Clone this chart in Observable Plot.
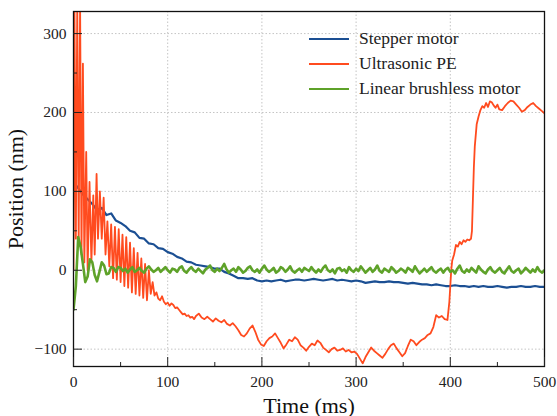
<!DOCTYPE html>
<html>
<head>
<meta charset="utf-8">
<script src="https://cdn.jsdelivr.net/npm/d3@7"></script>
<script src="https://cdn.jsdelivr.net/npm/@observablehq/plot@0.6"></script>
<style>
  html, body { margin: 0; padding: 0; background: #fff; }
  #wrap { position: relative; width: 557px; height: 416px; font-family: "Liberation Serif", "Times New Roman", serif; }
  #wrap svg, #wrap svg text { font-family: "Liberation Serif", "Times New Roman", serif !important; font-variant-numeric: normal !important; font-variant: normal !important; }
  g[aria-label="x-axis tick label"] text, g[aria-label="y-axis tick label"] text { font-size: 15.5px; fill: #222; }
  g[aria-label="x-axis label"] text, g[aria-label="y-axis label"] text { font-size: 22px; fill: #111; }
  #legend { position: absolute; left: 309px; top: 26px; font-size: 17.5px; color: #222; }
  #legend .row { display: flex; align-items: center; height: 25px; }
  #legend .sw { width: 40px; height: 2px; margin-right: 10px; }
</style>
</head>
<body>
<div id="wrap"><div id="legend"></div></div>
<script>
// ---- Data ----
const seriesNames = ["Stepper motor", "Ultrasonic PE", "Linear brushless motor"];
const seriesColors = ["#1b4f93", "#ff4b1f", "#5ea229"];

const xMajorTicks = [0, 100, 200, 300, 400, 500];
const xMinorTicks = [50, 150, 250, 350, 450];
const yMajorTicks = [-100, 0, 100, 200, 300];
const yMinorTicks = [-50, 50, 150, 250];

// Stepper motor, sampled every 5 ms from 0 to 500 ms
const stepperStep = 5;
const stepperValues = [
  112, 104, 96, 90, 84, 76, 79, 70, 72, 63,
  60, 56, 50, 48, 41, 40, 34, 33, 28, 27,
  23, 21, 17, 15, 11, 10, 7, 6, 5, 4,
  2, 2, -2, -4, -7, -10, -10, -11, -10, -13,
  -14, -13, -14, -13, -12, -14, -13, -12, -12, -13,
  -12, -11, -12, -13, -12, -11, -13, -12, -13, -14,
  -13, -14, -16, -15, -14, -15, -15, -14, -15, -15,
  -16, -17, -16, -17, -18, -18, -19, -18, -19, -20,
  -20, -19, -20, -20, -21, -20, -21, -20, -21, -21,
  -20, -21, -22, -21, -21, -20, -21, -21, -20, -21,
  -21
];

// Ultrasonic PE, irregular samples
const ultraTime = [
  0, 1, 2.5, 4, 5.5, 7, 8.5, 10, 11.5, 13.5, 15, 17, 19, 21, 22.5, 24.5, 26,
  28, 30, 32, 34, 36, 38, 40, 42, 44, 46, 48, 50, 52, 54, 56, 58, 60, 62, 64, 66,
  68, 70, 72, 74, 76, 78, 80, 82, 84, 86, 88, 90, 92, 94, 96, 98, 100, 102, 104,
  106, 108, 110, 112, 114, 116, 118, 120, 122, 124, 126, 128, 130, 133, 136, 139,
  142, 145, 148, 151, 154, 157, 160, 163, 166, 169, 172, 175, 178, 181, 184, 187,
  190, 193, 196, 199, 202, 205, 208, 211, 214, 217, 220, 223, 226, 229, 232, 235,
  238, 241, 244, 247, 250, 253, 256, 259, 262, 265, 268, 271, 274, 277, 280, 283,
  286, 289, 292, 295, 298, 301, 304, 307, 310, 313, 316, 319, 322, 325, 328, 331,
  334, 337, 340, 343, 346, 349, 352, 355, 358, 361, 364, 367, 370, 373, 376, 379,
  382, 385, 388, 391, 394, 397, 399, 400, 401, 402, 404, 406, 408, 410, 412, 414,
  416, 418, 420, 422, 423, 424, 425, 426, 428, 430, 432, 434, 436, 438, 440, 442,
  444, 446, 448, 450, 452, 455, 458, 461, 464, 467, 470, 473, 476, 479, 482, 485,
  488, 491, 494, 497, 500
];
const ultraValues = [
  0, 340, 40, 340, 30, 340, 20, 262, 10, 150, 0, 112, 10, 95, 20, 122, 40,
  100, 40, 92, 20, 62, 5, 58, -10, 55, -12, 52, -15, 45, -20, 42, -22, 35, -28, 28, -30,
  22, -32, 15, -35, 8, -38, 0, -30, -15, -32, -28, -36, -38, -33, -40, -43, -41, -45, -42,
  -44, -48, -47, -50, -53, -56, -55, -58, -57, -60, -59, -62, -58, -55, -60, -62,
  -59, -62, -65, -61, -64, -66, -63, -68, -70, -67, -71, -76, -82, -84, -80, -74,
  -70, -78, -88, -94, -96, -90, -86, -84, -80, -86, -92, -99, -94, -88, -90, -85,
  -88, -95, -98, -102, -97, -93, -95, -89, -92, -98, -101, -104, -100, -98, -102, -101,
  -99, -103, -101, -104, -103, -106, -112, -118, -110, -104, -98, -102, -105, -108, -111, -106,
  -100, -95, -93, -99, -104, -109, -105, -96, -88, -90, -95, -91, -88, -86, -82, -80,
  -72, -57, -60, -58, -62, -63, -40, -20, 0, 12, 20, 32, 30, 36, 33, 38,
  36, 39, 38, 40, 50, 90, 130, 157, 185, 195, 203, 208, 206, 212, 207, 214,
  213, 209, 206, 210, 204, 203, 208, 212, 215, 214, 210, 206, 201, 203, 207, 210,
  212, 208, 205, 202, 199
];

// Linear brushless motor, sampled every 2.5 ms from 0 to 500 ms
const linearStep = 2.5;
const linearValues = [
  -50, -20, 42, 30, 8, -15, -8, 14, 10, -6, -14, -2, 10, 6, -5, -4, 4, 3, -2, 4,
  3, -1, 2, -3, 1, 4, -2, 0, 3, -1, -3, 2, 5, 1, -2, 0, 3, -2, 1, 4,
  0, -3, 2, 1, -2, 3, 5, -1, -3, 1, 4, 0, -2, 2, -1, -4, 1, 3, 6, 0,
  -2, 2, -1, 3, 8, 1, -3, 0, 2, -2, 4, 1, -3, -1, 3, 5, 0, -2, 1, -3,
  2, 6, 1, -2, 0, 3, -3, -1, 4, 2, -2, 1, 5, -1, -3, 0, 2, -2, 3, 1,
  -1, 4, 0, -3, 1, -2, 3, 6, 0, -2, 1, -4, 2, 3, -1, 1, -3, 4, 0, -2,
  2, -1, 5, 1, -3, 0, 3, -2, 1, 6, -1, -3, 2, 0, -2, 4, 1, -3, -1, 2,
  0, -3, 3, 1, -2, 5, 0, -4, -1, 2, -2, 1, 4, -1, -3, 0, 2, -3, 1, 3,
  -2, 0, -4, 2, 6, -1, -3, 1, -2, 3, 0, -3, 5, 1, -2, -4, 1, 4, -1, -3,
  0, 3, -2, -4, 1, 5, -1, -3, 0, 2, -4, -1, 3, 0, -3, 1, -2, 4, -1, -3,
  0
];

// ---- Build tables ----
const stepper = stepperValues.map((v, i) => ({t: i * stepperStep, v}));
const ultra = ultraValues.map((v, i) => ({t: ultraTime[i], v}));
const linear = linearValues.map((v, i) => ({t: i * linearStep, v}));

const fmt = d => d < 0 ? "\u2212" + Math.abs(d) : String(d);
const serif = "Liberation Serif";

const chart = Plot.plot({
  width: 557,
  height: 416,
  marginLeft: 73,
  marginRight: 13,
  marginTop: 11,
  marginBottom: 50,
  x: {domain: [0, 500]},
  y: {domain: [-122, 328]},
  style: {fontFamily: serif, fontSize: "15px", background: "white", color: "#222", overflow: "visible"},
  marks: [
    Plot.gridX(xMajorTicks.slice(1, -1), {stroke: "#c4c4c4", strokeOpacity: 1, strokeDasharray: "1.5,2"}),
    Plot.gridY(yMajorTicks, {stroke: "#c4c4c4", strokeOpacity: 1, strokeDasharray: "1.5,2"}),
    Plot.line(stepper, {x: "t", y: "v", stroke: seriesColors[0], strokeWidth: 2.2, clip: true}),
    Plot.line(ultra, {x: "t", y: "v", stroke: seriesColors[1], strokeWidth: 1.8, clip: true}),
    Plot.line(linear, {x: "t", y: "v", stroke: seriesColors[2], strokeWidth: 2.6, clip: true}),
    Plot.frame({stroke: "#111", strokeWidth: 1.3}),
    Plot.axisX(xMajorTicks, {tickSize: -9, tickPadding: 18, tickFormat: fmt, fontFamily: serif, fontVariant: "normal", label: "Time (ms)", labelAnchor: "center", labelArrow: "none", labelOffset: 46}),
    Plot.axisX(xMinorTicks, {tickSize: -4, tickFormat: () => "", label: null}),
    Plot.axisY(yMajorTicks, {tickSize: -9, tickPadding: 16, tickFormat: fmt, fontFamily: serif, fontVariant: "normal", label: "Position (nm)", labelAnchor: "center", labelArrow: "none", labelOffset: 66}),
    Plot.axisY(yMinorTicks, {tickSize: -4, tickFormat: () => "", label: null})
  ]
});

const wrap = document.getElementById("wrap");
wrap.insertBefore(chart, wrap.firstChild);

const legend = document.getElementById("legend");
seriesNames.forEach((name, i) => {
  const row = document.createElement("div");
  row.className = "row";
  const sw = document.createElement("span");
  sw.className = "sw";
  sw.style.background = seriesColors[i];
  const label = document.createElement("span");
  label.textContent = name;
  row.appendChild(sw);
  row.appendChild(label);
  legend.appendChild(row);
});
</script>
</body>
</html>
